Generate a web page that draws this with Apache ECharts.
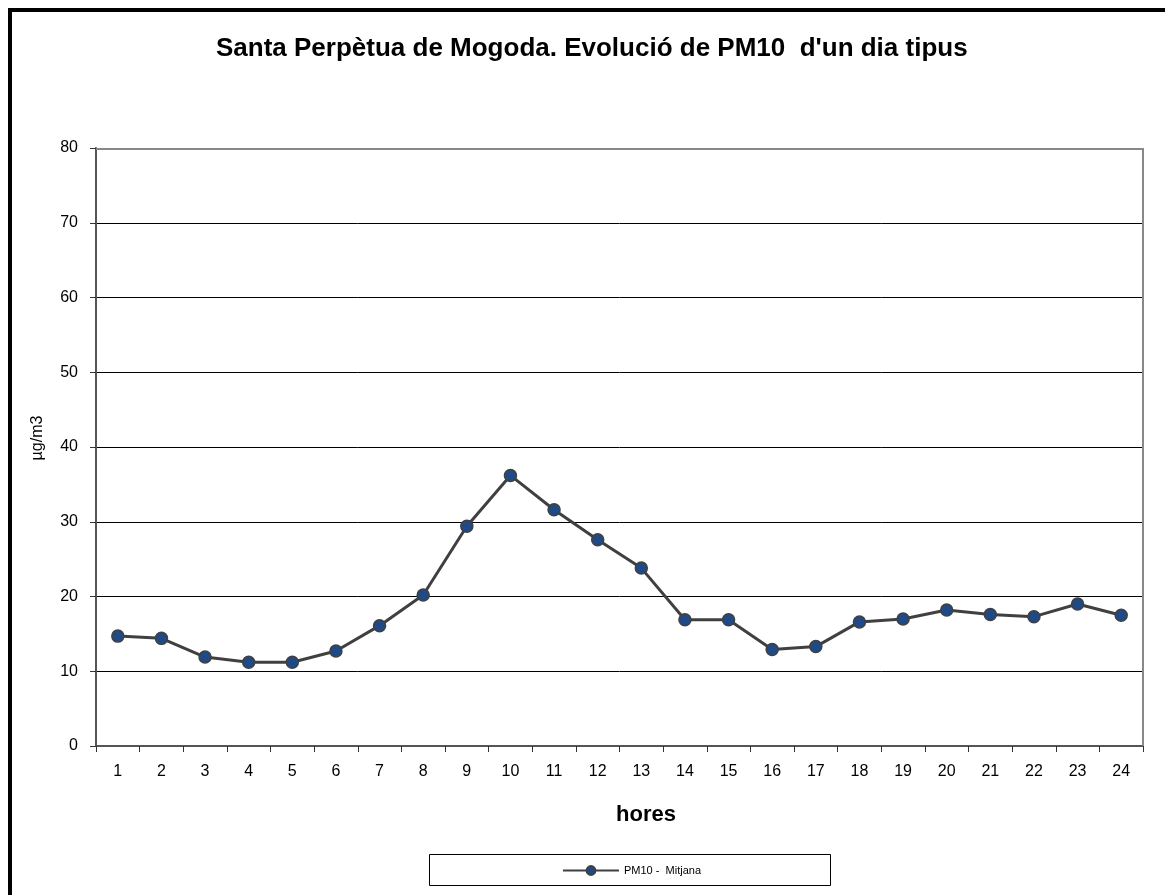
<!DOCTYPE html>
<html>
<head>
<meta charset="utf-8">
<script src="https://cdn.jsdelivr.net/npm/echarts@6/dist/echarts.min.js"></script>
<style>
  html, body { margin: 0; padding: 0; background: #fff; }
  #chart { width: 1165px; height: 895px; }
</style>
</head>
<body>
<div id="chart"></div>
<script>
// hores del dia
const hours = ['1', '2', '3', '4', '5', '6', '7', '8', '9', '10', '11', '12',
  '13', '14', '15', '16', '17', '18', '19', '20', '21', '22', '23', '24'];
// PM10 mitjana (µg/m3)
const pm10 = [14.7, 14.4, 11.9, 11.2, 11.2, 12.7, 16.1, 20.2, 29.4, 36.2, 31.6, 27.6,
  23.8, 16.9, 16.9, 12.9, 13.3, 16.6, 17.0, 18.2, 17.6, 17.3, 19.0, 17.5];
const yTicks = [0, 80, 10]; // min, max, interval

const chart = echarts.init(document.getElementById('chart'), null, { renderer: 'canvas' });

const font = 'Liberation Sans, Arial, sans-serif';

chart.setOption({
  animation: false,
  backgroundColor: '#fff',
  title: {
    text: "Santa Perpètua de Mogoda. Evolució de PM10  d'un dia tipus",
    left: 216,
    top: 36,
    padding: 0,
    textStyle: { fontFamily: font, fontSize: 26, fontWeight: 'bold', color: '#000' }
  },
  grid: { left: 96, right: 22, top: 148, bottom: 149, containLabel: false },
  legend: {
    data: ['PM10 -  Mitjana'],
    left: 562,
    top: 865,
    padding: 0,
    itemWidth: 56,
    itemHeight: 11,
    itemGap: 4,
    textStyle: { fontFamily: font, fontSize: 11, color: '#000' }
  },
  xAxis: {
    type: 'category',
    data: hours,
    boundaryGap: true,
    axisLine: { lineStyle: { color: '#555', width: 2 } },
    axisTick: { show: true, length: 6, lineStyle: { color: '#333' } },
    axisLabel: { fontFamily: font, fontSize: 16, color: '#000', margin: 18 },
    splitLine: { show: false }
  },
  yAxis: {
    type: 'value',
    min: yTicks[0],
    max: yTicks[1],
    interval: yTicks[2],
    axisLine: { show: true, lineStyle: { color: '#555', width: 2 } },
    axisTick: { show: true, length: 6, lineStyle: { color: '#333' } },
    axisLabel: { fontFamily: font, fontSize: 16, color: '#000', margin: 18 },
    splitLine: { show: true, lineStyle: { color: '#000', width: 1 } }
  },
  series: [{
    name: 'PM10 -  Mitjana',
    type: 'line',
    data: pm10,
    symbol: 'circle',
    symbolSize: 12,
    lineStyle: { color: '#404040', width: 3 },
    itemStyle: { color: '#1F4A85', borderColor: '#404040', borderWidth: 1.5 },
    z: 5
  }],
  graphic: [
    // marc exterior
    { type: 'rect', shape: { x: 10, y: 10, width: 1300, height: 1000 },
      style: { fill: 'none', stroke: '#000', lineWidth: 4 }, silent: true },
    // vora superior i dreta de l'àrea de dibuix
    { type: 'polyline', shape: { points: [[96, 149], [1143, 149], [1143, 746]] },
      style: { fill: 'none', stroke: '#888', lineWidth: 2 }, silent: true, z: 1 },
    // caixa de la llegenda
    { type: 'rect', shape: { x: 429.5, y: 854.5, width: 401, height: 31 },
      style: { fill: 'none', stroke: '#000', lineWidth: 1 }, silent: true },
    // nom de l'eix X
    { type: 'text', x: 646, y: 815,
      style: { text: 'hores', font: 'bold 22px ' + font, fill: '#000', align: 'center', verticalAlign: 'middle' } },
    // nom de l'eix Y
    { type: 'text', x: 38, y: 438, rotation: Math.PI / 2,
      style: { text: 'µg/m3', font: '16px ' + font, fill: '#000', align: 'center', verticalAlign: 'middle' } }
  ]
});
</script>
</body>
</html>
